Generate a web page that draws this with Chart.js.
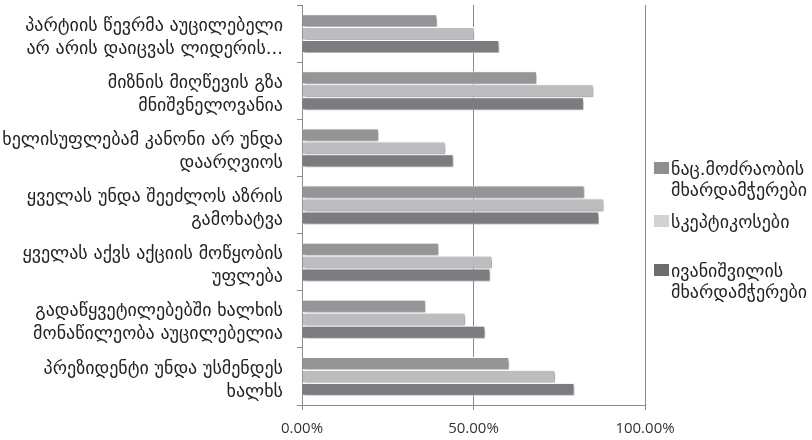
<!DOCTYPE html>
<html>
<head>
<meta charset="utf-8">
<script src="https://cdn.jsdelivr.net/npm/chart.js@4/dist/chart.umd.min.js"></script>
<style>
  html, body { margin: 0; padding: 0; background: #fff; }
  #wrap { position: relative; width: 812px; height: 440px; }
  #legend { position: absolute; left: 654px; top: 158px; font-family: 'DejaVu Sans', sans-serif; font-size: 18px; color: #222; line-height: 21px; }
  .item { display: flex; align-items: flex-start; }
  .box { width: 15px; height: 12px; margin-top: 4px; margin-right: 2px; flex: none; }
</style>
</head>
<body>
<div id="wrap">
  <canvas id="chart" width="812" height="440"></canvas>
  <div id="legend"></div>
</div>
<script>
// categories (top to bottom)
const categories = [
    ['პარტიის წევრმა აუცილებელი', 'არ არის დაიცვას ლიდერის...'],
    ['მიზნის მიღწევის გზა', 'მნიშვნელოვანია'],
    ['ხელისუფლებამ კანონი არ უნდა', 'დაარღვიოს'],
    ['ყველას უნდა შეეძლოს აზრის', 'გამოხატვა'],
    ['ყველას აქვს აქციის მოწყობის', 'უფლება'],
    ['გადაწყვეტილებებში ხალხის', 'მონაწილეობა აუცილებელია'],
    ['პრეზიდენტი უნდა უსმენდეს', 'ხალხს']
];

// series names
const seriesNames = [
    ['ნაც.მოძრაობის', 'მხარდამჭერები'],
    ['სკეპტიკოსები'],
    ['ივანიშვილის', 'მხარდამჭერები']
];

// values in %
const natsValues = [39.4, 68.5, 22.4, 82.4, 39.9, 36.1, 60.4];
const skepticValues = [50.2, 85.0, 41.8, 88.0, 55.4, 47.6, 73.8];
const ivanishviliValues = [57.5, 82.2, 44.2, 86.6, 54.9, 53.4, 79.4];

const xTicks = [0, 50, 100];

const colors = ['#959598', '#bdbdc0', '#7c7c80'];
const legendColors = ['#8f8f92', '#d2d2d4', '#6c6c70'];

const shadowPlugin = {
    id: 'barShadow',
    beforeDatasetsDraw(chart) {
        const ctx = chart.ctx;
        ctx.save();
        ctx.shadowColor = 'rgba(0,0,0,0.4)';
        ctx.shadowOffsetX = 1.5;
        ctx.shadowOffsetY = 1.5;
        ctx.shadowBlur = 3;
    },
    afterDatasetsDraw(chart) {
        chart.ctx.restore();
    }
};

const gray = '#8a8a8a';

new Chart(document.getElementById('chart'), {
    type: 'bar',
    data: {
        labels: categories,
        datasets: [
            { label: seriesNames[0].join(' '), data: natsValues, backgroundColor: colors[0] },
            { label: seriesNames[1].join(' '), data: skepticValues, backgroundColor: colors[1] },
            { label: seriesNames[2].join(' '), data: ivanishviliValues, backgroundColor: colors[2] }
        ]
    },
    options: {
        indexAxis: 'y',
        responsive: false,
        animation: false,
        layout: { padding: { top: 5, right: 167, bottom: 0, left: 0 } },
        datasets: {
            bar: {
                borderColor: '#ffffff',
                borderWidth: 1,
                categoryPercentage: 0.68,
                barPercentage: 1.0
            }
        },
        plugins: {
            legend: { display: false },
            tooltip: { enabled: false }
        },
        scales: {
            x: {
                min: 0,
                max: 100,
                afterBuildTicks(scale) {
                    scale.ticks = xTicks.map(v => ({ value: v }));
                },
                afterFit(scale) {
                    scale.height = 35;
                    scale.paddingLeft = 0;
                    scale.paddingRight = 0;
                },
                grid: { color: gray, lineWidth: 1, tickLength: 5, drawTicks: true },
                border: { display: true, color: gray, width: 1 },
                ticks: {
                    color: '#333',
                    padding: 10,
                    font: { family: "'Open Sans', sans-serif", size: 15 },
                    callback: v => v.toFixed(2) + '%'
                }
            },
            y: {
                offset: true,
                afterFit(scale) {
                    scale.width = 302;
                    scale.paddingTop = 0;
                    scale.paddingBottom = 0;
                },
                grid: { offset: true, drawOnChartArea: false, color: gray, tickLength: 5 },
                border: { display: true, color: gray, width: 1 },
                ticks: {
                    color: '#222',
                    padding: 14,
                    labelOffset: 4,
                    autoSkip: false,
                    font: { family: "'DejaVu Sans', sans-serif", size: 18, lineHeight: 1.28 }
                }
            }
        }
    },
    plugins: [shadowPlugin]
});

// html legend
const legend = document.getElementById('legend');
const itemGaps = [0, 11, 28];
seriesNames.forEach((name, i) => {
    const item = document.createElement('div');
    item.className = 'item';
    item.style.marginTop = itemGaps[i] + 'px';
    const box = document.createElement('div');
    box.className = 'box';
    box.style.background = legendColors[i];
    const text = document.createElement('div');
    text.innerHTML = name.join('<br>');
    item.appendChild(box);
    item.appendChild(text);
    legend.appendChild(item);
});
</script>
</body>
</html>
